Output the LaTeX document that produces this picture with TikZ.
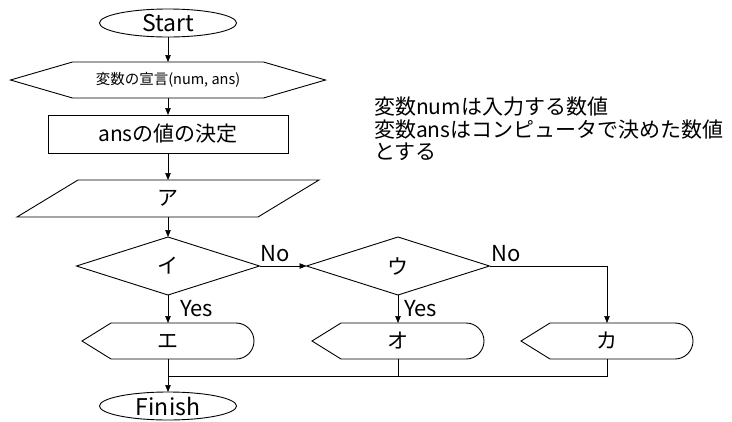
\documentclass[tikz,border=0pt]{standalone}
\usepackage{fontspec}
\setmainfont{Noto Sans CJK JP}
\usetikzlibrary{arrows.meta,positioning,shapes.geometric}

\begin{document}
\begin{tikzpicture}[x=1pt, y=1pt, >={Stealth[length=7pt,width=5.5pt,inset=0pt]},
  every node/.style={inner sep=0pt, outer sep=0pt, font=\fontsize{21}{24}\selectfont},
  shape line/.style={line width=0.9pt},
  terminal/.style={ellipse, draw, line width=0.9pt, minimum width=137pt, minimum height=28pt, font=\fontsize{23}{26}\selectfont},
  prepbox/.style={minimum width=315pt, minimum height=36pt, font=\fontsize{14.5}{17}\selectfont,
    append after command={\pgfextra{\draw[shape line] (\tikzlastnode.west) -- ([xshift=62pt]\tikzlastnode.north west) -- ([xshift=-62pt]\tikzlastnode.north east) -- (\tikzlastnode.east) -- ([xshift=-62pt]\tikzlastnode.south east) -- ([xshift=62pt]\tikzlastnode.south west) -- cycle;}}},
  procbox/.style={draw, line width=0.9pt, minimum width=240pt, minimum height=38pt},
  iobox/.style={minimum width=302pt, minimum height=37pt,
    append after command={\pgfextra{\draw[shape line] ([xshift=61pt]\tikzlastnode.north west) -- (\tikzlastnode.north east) -- ([xshift=-61pt]\tikzlastnode.south east) -- (\tikzlastnode.south west) -- cycle;}}},
  decision/.style={diamond, draw, line width=0.9pt, minimum width=183pt, minimum height=58pt},
  dispbox/.style={minimum width=172pt, minimum height=36pt,
    append after command={\pgfextra{\draw[shape line] (\tikzlastnode.west) -- ([xshift=29pt]\tikzlastnode.north west) -- ([xshift=-18pt]\tikzlastnode.north east) arc[start angle=90, end angle=-90, radius=18pt] -- ([xshift=29pt]\tikzlastnode.south west) -- cycle;}}},
  answer/.style={font=\fontsize{22}{24}\selectfont},
  flow/.style={->, line width=0.6pt},
  link/.style={line width=0.6pt}]
\useasboundingbox (0,0) rectangle (732,-421);
% main column
\node[terminal] (start) at (168,-23) {Start};
\node[prepbox] (decl) [below=25pt of start] {変数の宣言(num, ans)};
\node[procbox] (init) [below=17pt of decl] {ansの値の決定};
\node[iobox] (input) [below=27pt of init] {ア};
\node[decision] (cond1) [below=20pt of input] {イ};
\node[dispbox] (out1) [below=28pt of cond1] {エ};
\node[terminal] (fin) [below=33pt of out1] {Finish};
% branches
\node[decision] (cond2) [right=47pt of cond1] {ウ};
\node[dispbox] (out2) [below=28pt of cond2] {オ};
\node[dispbox] (out3) [right=37pt of out2] {カ};
\coordinate[below=17pt of out1.south] (join);
\node[anchor=north west, align=left, font=\fontsize{21}{22.5}\selectfont] (note) at (374,-97) {変数numは入力する数値\\変数ansはコンピュータで決めた数値\\とする};
\draw[flow] (start) -- (decl);\draw[flow] (decl) -- (init);\draw[flow] (init) -- (input);\draw[flow] (input) -- (cond1);
\draw[flow] (cond1) -- node[answer, right=12pt]{Yes} (out1);
\draw[flow] (cond1) -- node[answer, pos=0, above right=4pt and 1pt]{No} (cond2);
\draw[flow] (cond2) -- node[answer, right=6pt]{Yes} (out2);
\draw[flow] (cond2) -| node[answer, pos=0, above right=4pt and 2pt]{No} (out3);
\draw[link] (out3) |- (join);
\draw[link] (out2) -- (out2 |- join);
\draw[flow] (out1) -- (fin);
\end{tikzpicture}
\end{document}
